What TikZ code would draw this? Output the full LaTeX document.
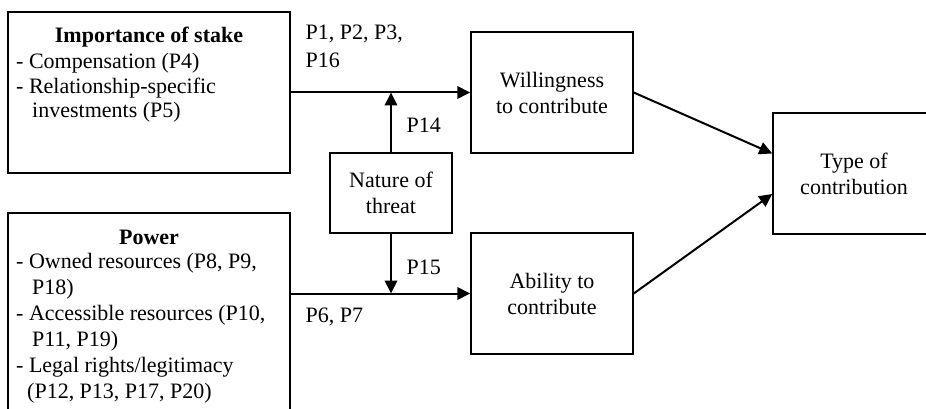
\documentclass[tikz,border=0pt]{standalone}
\usepackage{fontspec}
\setmainfont{Liberation Serif}
\usetikzlibrary{arrows.meta}
\begin{document}
\begin{tikzpicture}[x=1pt,y=-1pt,
  box/.style={draw, line width=1.5pt, rectangle, inner sep=0pt, align=center,
    font=\fontsize{22}{26}\selectfont},
  txt/.style={inner sep=0pt, font=\fontsize{22}{25}\selectfont},
  arr/.style={line width=2pt, -{Triangle[length=13pt,width=12.5pt]}},
]
\clip (0,0) rectangle (926,409);
\fill[white] (0,0) rectangle (926,409);

% framed blocks
\node[box, minimum width=282pt, minimum height=161pt] (imp) at (149,92.5) {};
\node[box, minimum width=282pt, minimum height=240pt] (pow) at (149,333) {};
\node[box, minimum width=162pt, minimum height=121pt] (will) at (552,92.5) {Willingness\\to contribute};
\node[box, minimum width=162pt, minimum height=121pt] (abil) at (552,293.5) {Ability to\\contribute};
\node[box, minimum width=122pt, minimum height=80pt] (threat) at (391,193) {Nature of\\threat};
\node[box, minimum width=162pt, minimum height=121pt] (type) at (854,173.5) {Type of\\contribution};

% contents of the two left blocks
\node[txt, anchor=base, font=\fontsize{22}{25}\selectfont\bfseries] (impTitle) at (149,43) {Importance of stake};
\node[txt, anchor=north west, align=left, font=\fontsize{22}{24.6}\selectfont] (impItems) at (16,53)
  {- Compensation (P4)\\- Relationship-specific\\\hspace*{16pt}investments (P5)};
\node[txt, anchor=base, font=\fontsize{22}{25}\selectfont\bfseries] (powTitle) at (149,244) {Power};
\node[txt, anchor=north west, align=left, font=\fontsize{22}{26}\selectfont] (powItems) at (16,253)
  {- Owned resources (P8, P9,\\\hspace*{16pt}P18)\\- Accessible resources (P10,\\\hspace*{16pt}P11, P19)\\- Legal rights/legitimacy\\\hspace*{11pt}(P12, P13, P17, P20)};

% proposition labels
\node[txt, anchor=north west, align=left, font=\fontsize{22}{28}\selectfont] (lblA) at (305.5,25) {P1, P2, P3,\\P16};
\node[txt, anchor=base west] (lblB) at (406.5,133) {P14};
\node[txt, anchor=base west] (lblC) at (406.5,274) {P15};
\node[txt, anchor=base west] (lblD) at (305.5,322) {P6, P7};

% connectors
\draw[arr] (imp.east |- will.west) -- (will.west);
\draw[arr] (pow.east |- abil.west) -- (abil.west);
\draw[arr] (threat.north) -- (threat.north |- will.west);
\draw[arr] (threat.south) -- (threat.south |- abil.west);
\draw[arr] (will.east) -- ([yshift=20pt]type.west);
\draw[arr] (abil.east) -- ([yshift=-20.5pt]type.west);
\end{tikzpicture}
\end{document}
